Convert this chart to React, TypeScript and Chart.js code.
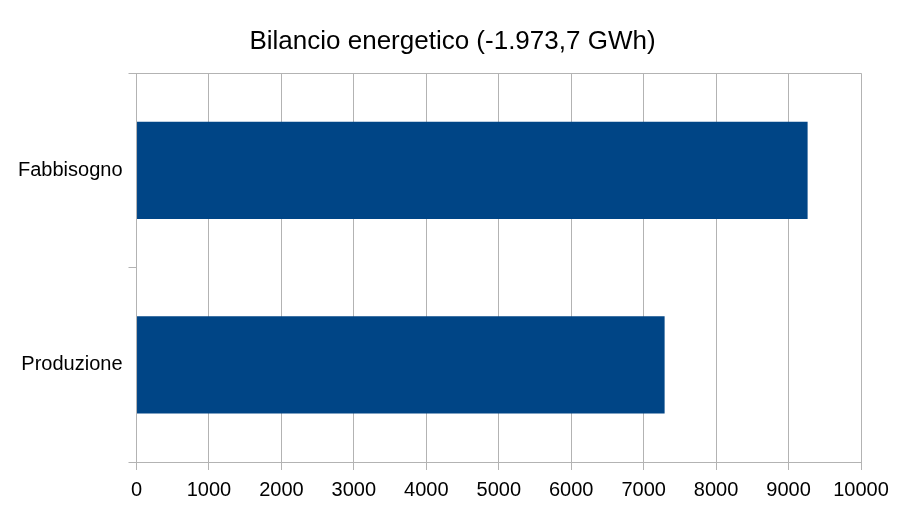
import { useEffect, useRef } from 'react';
import { Chart, registerables } from 'chart.js';

Chart.register(...registerables);

const CATEGORIES = ['Fabbisogno', 'Produzione'];
const VALUES = [9263.0, 7289.3];
const TITLE = 'Bilancio energetico (-1.973,7 GWh)';

const GRID = '#b3b3b3';
const FONT = '"Liberation Sans", Arial, sans-serif';

// centre the title on the whole canvas, not on the padded area
const centerTitle = {
  id: 'centerTitle',
  afterLayout(chart: any) {
    const t = chart.titleBlock;
    if (t) {
      t.left = 0;
      t.right = chart.width - 2;
    }
  },
};

export default function App() {
  const canvasRef = useRef<HTMLCanvasElement>(null);
  const chartRef = useRef<Chart | null>(null);

  useEffect(() => {
    document.body.style.margin = '0';
    if (!canvasRef.current) return;
    if (chartRef.current) chartRef.current.destroy();

    chartRef.current = new Chart(canvasRef.current, {
      type: 'bar',
      data: {
        labels: CATEGORIES,
        datasets: [
          {
            data: VALUES,
            backgroundColor: '#004586',
            borderWidth: 0,
            categoryPercentage: 1,
            barPercentage: 0.5,
          },
        ],
      },
      plugins: [centerTitle],
      options: {
        indexAxis: 'y',
        animation: false,
        responsive: false,
        layout: { padding: { left: 12, right: 46, top: 0, bottom: 0 } },
        plugins: {
          legend: { display: false },
          tooltip: { enabled: false },
          title: {
            display: true,
            text: TITLE,
            color: '#000',
            font: { family: FONT, size: 26, weight: 'normal' },
            padding: { top: 26, bottom: 16 },
          },
        },
        scales: {
          x: {
            min: 0,
            max: 10000,
            ticks: {
              stepSize: 1000,
              color: '#000',
              font: { family: FONT, size: 20 },
              padding: 8,
              maxRotation: 0,
              callback: (v) => String(v),
            },
            grid: { color: GRID, tickColor: GRID, tickLength: 8, lineWidth: 1 },
            border: { color: GRID },
          },
          y: {
            offset: true,
            ticks: {
              color: '#000',
              font: { family: FONT, size: 20 },
              padding: 6,
            },
            grid: {
              offset: true,
              color: (ctx) => (ctx.index === 1 ? 'transparent' : GRID),
              tickColor: GRID,
              tickLength: 8,
            },
            border: { color: GRID },
          },
        },
      },
    });

    return () => chartRef.current?.destroy();
  }, []);

  return (
    <div style={{ width: 907, height: 510 }}>
      <canvas ref={canvasRef} width={907} height={510} />
    </div>
  );
}
